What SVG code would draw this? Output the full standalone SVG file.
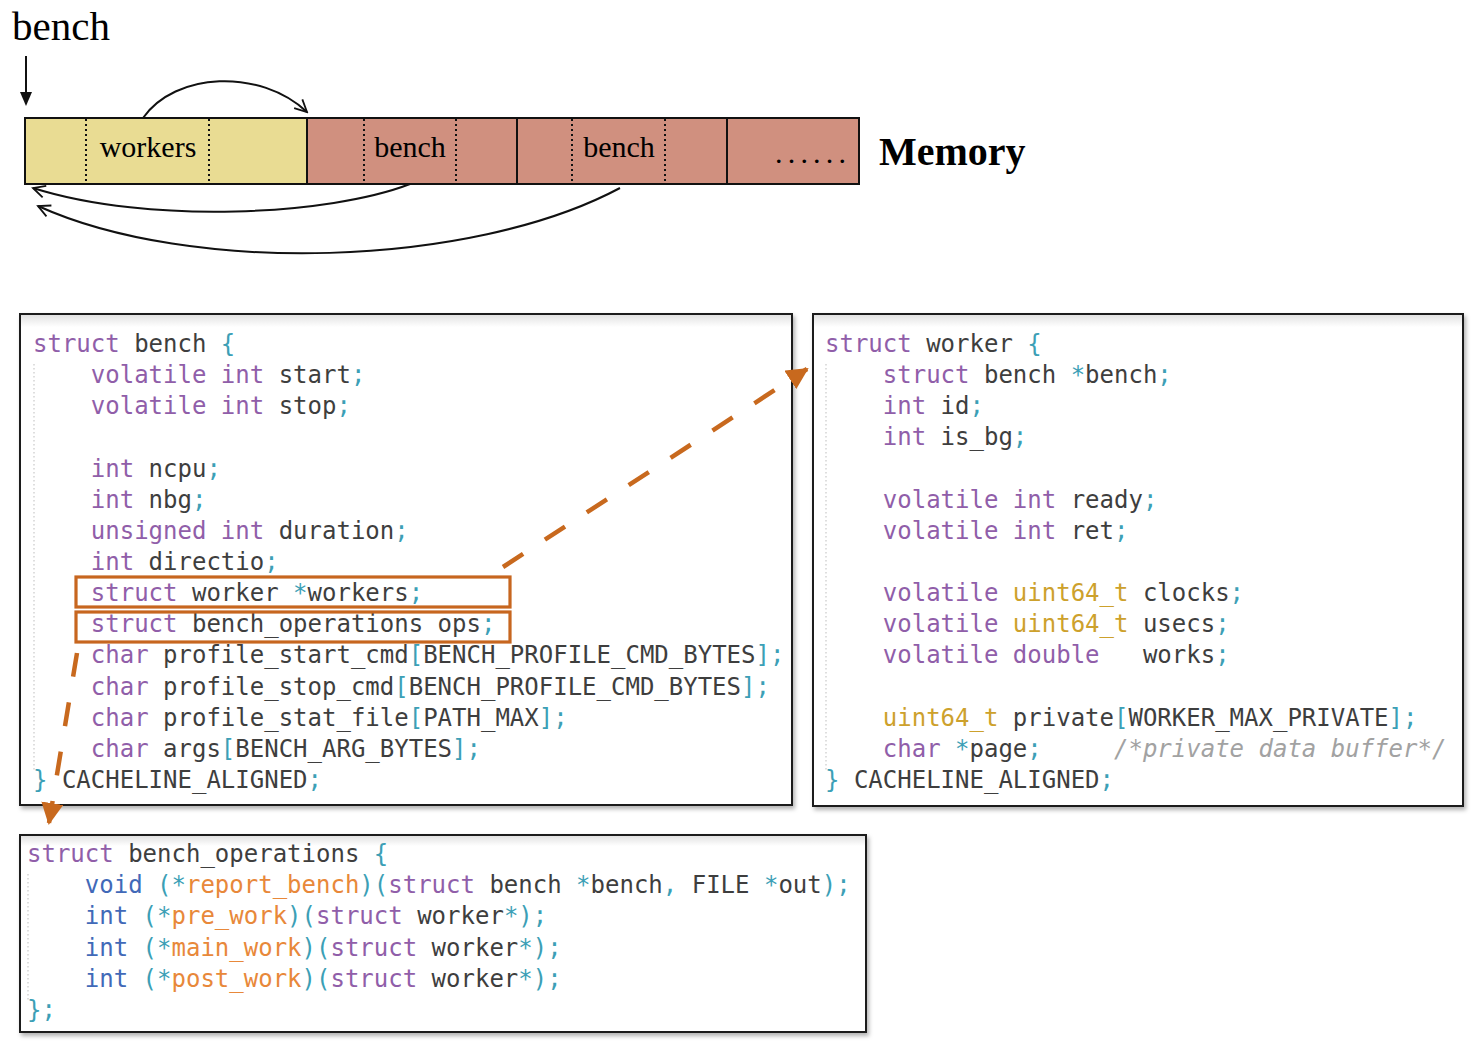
<svg xmlns="http://www.w3.org/2000/svg" width="1476" height="1045" viewBox="0 0 1476 1045">
<defs>
<style>
.serif{font-family:"Liberation Serif","Times New Roman",serif;fill:#000}
.code{font-family:"DejaVu Sans Mono",monospace;font-size:24px;fill:#3e3e3e;white-space:pre}
.k{fill:#905ea9}
.p{fill:#3c9fb6}
.b{fill:#4169b8}
.o{fill:#e8883a}
.y{fill:#cda12c}
.c{fill:#a2a2a2;font-style:italic}
.box{fill:#fff;stroke:#1a1a1a;stroke-width:2}
.guide{stroke:#c8c8c8;stroke-width:1.2;stroke-dasharray:1.5 2.5}
.seg{stroke:#111;stroke-width:2}
.dot{stroke:#111;stroke-width:2;stroke-dasharray:2 3}
.curve{fill:none;stroke:#111;stroke-width:2}
.hl{fill:none;stroke:#c7661f;stroke-width:3.2}
.dash{fill:none;stroke:#c8691e;stroke-width:4.5;stroke-dasharray:24 26}
</style>
<marker id="open" viewBox="-14 -8 16 16" refX="0" refY="0" markerWidth="16" markerHeight="16" markerUnits="userSpaceOnUse" orient="auto">
<path d="M-12,-6 L0,0 L-12,6" fill="none" stroke="#111" stroke-width="1.8"/>
</marker>
<marker id="tri" viewBox="0 0 22 22" refX="20" refY="11" markerWidth="22" markerHeight="22" markerUnits="userSpaceOnUse" orient="auto">
<path d="M0,0 L22,11 L0,22 z" fill="#c8691e"/>
</marker>
<filter id="sh" x="-5%" y="-5%" width="110%" height="112%">
<feDropShadow dx="2" dy="3" stdDeviation="2" flood-color="#000" flood-opacity="0.3"/>
</filter>
<linearGradient id="topg" x1="0" y1="0" x2="0" y2="1">
<stop offset="0" stop-color="#e2e2e2"/>
<stop offset="1" stop-color="#ffffff"/>
</linearGradient>
</defs>
<rect width="1476" height="1045" fill="#fff"/>

<g id="bench-pointer">
<text class="serif" x="12" y="40" font-size="41">bench</text>
<line x1="26" y1="56" x2="26" y2="94" stroke="#111" stroke-width="2"/>
<path d="M20,92 L32,92 L26,106 z" fill="#111"/>
</g>

<g id="memory-bar">
<rect x="25" y="118" width="282" height="66" fill="#e9dc93" class="seg"/>
<rect x="307" y="118" width="210" height="66" fill="#d0907f" class="seg"/>
<rect x="517" y="118" width="210" height="66" fill="#d0907f" class="seg"/>
<rect x="727" y="118" width="132" height="66" fill="#d0907f" class="seg"/>
<line class="dot" x1="86" y1="119" x2="86" y2="183"/>
<line class="dot" x1="209" y1="119" x2="209" y2="183"/>
<line class="dot" x1="364" y1="119" x2="364" y2="183"/>
<line class="dot" x1="456" y1="119" x2="456" y2="183"/>
<line class="dot" x1="572" y1="119" x2="572" y2="183"/>
<line class="dot" x1="665" y1="119" x2="665" y2="183"/>
<text class="serif" x="148" y="157" font-size="30" text-anchor="middle">workers</text>
<text class="serif" x="410" y="157" font-size="30" text-anchor="middle">bench</text>
<text class="serif" x="619" y="157" font-size="30" text-anchor="middle">bench</text>
<text class="serif" x="775" y="163" font-size="30" letter-spacing="5.2">......</text>
<text class="serif" x="879" y="165" font-size="40" font-weight="bold">Memory</text>
</g>

<g id="struct-bench">
<rect class="box" x="20" y="314" width="772" height="491" filter="url(#sh)"/>
<rect x="21" y="315" width="770" height="12" fill="url(#topg)"/>
<line class="guide" x1="34" y1="364" x2="34" y2="772"/>
<g class="code">
<text x="33" y="352" xml:space="preserve"><tspan class="k">struct</tspan> bench <tspan class="p">{</tspan></text>
<text x="90.8" y="383.1" xml:space="preserve"><tspan class="k">volatile int</tspan> start<tspan class="p">;</tspan></text>
<text x="90.8" y="414.3" xml:space="preserve"><tspan class="k">volatile int</tspan> stop<tspan class="p">;</tspan></text>
<text x="90.8" y="476.6" xml:space="preserve"><tspan class="k">int</tspan> ncpu<tspan class="p">;</tspan></text>
<text x="90.8" y="507.7" xml:space="preserve"><tspan class="k">int</tspan> nbg<tspan class="p">;</tspan></text>
<text x="90.8" y="538.8" xml:space="preserve"><tspan class="k">unsigned int</tspan> duration<tspan class="p">;</tspan></text>
<text x="90.8" y="570" xml:space="preserve"><tspan class="k">int</tspan> directio<tspan class="p">;</tspan></text>
<text x="90.8" y="601.1" xml:space="preserve"><tspan class="k">struct</tspan> worker <tspan class="p">*</tspan>workers<tspan class="p">;</tspan></text>
<text x="90.8" y="632.3" xml:space="preserve"><tspan class="k">struct</tspan> bench_operations ops<tspan class="p">;</tspan></text>
<text x="90.8" y="663.4" xml:space="preserve"><tspan class="k">char</tspan> profile_start_cmd<tspan class="p">[</tspan>BENCH_PROFILE_CMD_BYTES<tspan class="p">];</tspan></text>
<text x="90.8" y="694.5" xml:space="preserve"><tspan class="k">char</tspan> profile_stop_cmd<tspan class="p">[</tspan>BENCH_PROFILE_CMD_BYTES<tspan class="p">];</tspan></text>
<text x="90.8" y="725.7" xml:space="preserve"><tspan class="k">char</tspan> profile_stat_file<tspan class="p">[</tspan>PATH_MAX<tspan class="p">];</tspan></text>
<text x="90.8" y="756.8" xml:space="preserve"><tspan class="k">char</tspan> args<tspan class="p">[</tspan>BENCH_ARG_BYTES<tspan class="p">];</tspan></text>
<text x="33" y="788" xml:space="preserve"><tspan class="p">}</tspan> CACHELINE_ALIGNED<tspan class="p">;</tspan></text>
</g>
<rect class="hl" x="76" y="577" width="434" height="30"/>
<rect class="hl" x="76" y="612" width="434" height="30"/>
</g>

<g id="struct-worker">
<rect class="box" x="813" y="314" width="650" height="492" filter="url(#sh)"/>
<rect x="814" y="315" width="648" height="12" fill="url(#topg)"/>
<line class="guide" x1="826" y1="364" x2="826" y2="772"/>
<g class="code">
<text x="825" y="352" xml:space="preserve"><tspan class="k">struct</tspan> worker <tspan class="p">{</tspan></text>
<text x="882.8" y="383.1" xml:space="preserve"><tspan class="k">struct</tspan> bench <tspan class="p">*</tspan>bench<tspan class="p">;</tspan></text>
<text x="882.8" y="414.3" xml:space="preserve"><tspan class="k">int</tspan> id<tspan class="p">;</tspan></text>
<text x="882.8" y="445.4" xml:space="preserve"><tspan class="k">int</tspan> is_bg<tspan class="p">;</tspan></text>
<text x="882.8" y="507.7" xml:space="preserve"><tspan class="k">volatile int</tspan> ready<tspan class="p">;</tspan></text>
<text x="882.8" y="538.8" xml:space="preserve"><tspan class="k">volatile int</tspan> ret<tspan class="p">;</tspan></text>
<text x="882.8" y="601.1" xml:space="preserve"><tspan class="k">volatile</tspan> <tspan class="y">uint64_t</tspan> clocks<tspan class="p">;</tspan></text>
<text x="882.8" y="632.3" xml:space="preserve"><tspan class="k">volatile</tspan> <tspan class="y">uint64_t</tspan> usecs<tspan class="p">;</tspan></text>
<text x="882.8" y="663.4" xml:space="preserve"><tspan class="k">volatile double</tspan>   works<tspan class="p">;</tspan></text>
<text x="882.8" y="725.7" xml:space="preserve"><tspan class="y">uint64_t</tspan> private<tspan class="p">[</tspan>WORKER_MAX_PRIVATE<tspan class="p">];</tspan></text>
<text x="882.8" y="756.8" xml:space="preserve"><tspan class="k">char</tspan> <tspan class="p">*</tspan>page<tspan class="p">;</tspan>     <tspan class="c">/*private data buffer*/</tspan></text>
<text x="825" y="788" xml:space="preserve"><tspan class="p">}</tspan> CACHELINE_ALIGNED<tspan class="p">;</tspan></text>
</g>
</g>

<g id="struct-bench-operations">
<rect class="box" x="20" y="835" width="846" height="197" filter="url(#sh)"/>
<rect x="21" y="836" width="844" height="10" fill="url(#topg)"/>
<line class="guide" x1="28" y1="874" x2="28" y2="1000"/>
<g class="code">
<text x="27" y="862" xml:space="preserve"><tspan class="k">struct</tspan> bench_operations <tspan class="p">{</tspan></text>
<text x="84.8" y="893.2" xml:space="preserve"><tspan class="b">void</tspan> <tspan class="p">(*</tspan><tspan class="o">report_bench</tspan><tspan class="p">)(</tspan><tspan class="k">struct</tspan> bench <tspan class="p">*</tspan>bench<tspan class="p">,</tspan> FILE <tspan class="p">*</tspan>out<tspan class="p">);</tspan></text>
<text x="84.8" y="924.3" xml:space="preserve"><tspan class="b">int</tspan> <tspan class="p">(*</tspan><tspan class="o">pre_work</tspan><tspan class="p">)(</tspan><tspan class="k">struct</tspan> worker<tspan class="p">*);</tspan></text>
<text x="84.8" y="955.5" xml:space="preserve"><tspan class="b">int</tspan> <tspan class="p">(*</tspan><tspan class="o">main_work</tspan><tspan class="p">)(</tspan><tspan class="k">struct</tspan> worker<tspan class="p">*);</tspan></text>
<text x="84.8" y="986.6" xml:space="preserve"><tspan class="b">int</tspan> <tspan class="p">(*</tspan><tspan class="o">post_work</tspan><tspan class="p">)(</tspan><tspan class="k">struct</tspan> worker<tspan class="p">*);</tspan></text>
<text x="27" y="1017.8" xml:space="preserve"><tspan class="p">};</tspan></text>
</g>
</g>

<g id="connectors">
<path class="curve" d="M143,118 C175,72 260,68 307,112" marker-end="url(#open)"/>
<path class="curve" d="M410,184 C330,215 150,225 33,188" marker-end="url(#open)"/>
<path class="curve" d="M620,188 C470,268 190,275 38,206" marker-end="url(#open)"/>
<path class="dash" d="M503,567 L807,369" marker-end="url(#tri)"/>
<path class="dash" d="M77,653 L49,823" marker-end="url(#tri)"/>
</g>
</svg>
